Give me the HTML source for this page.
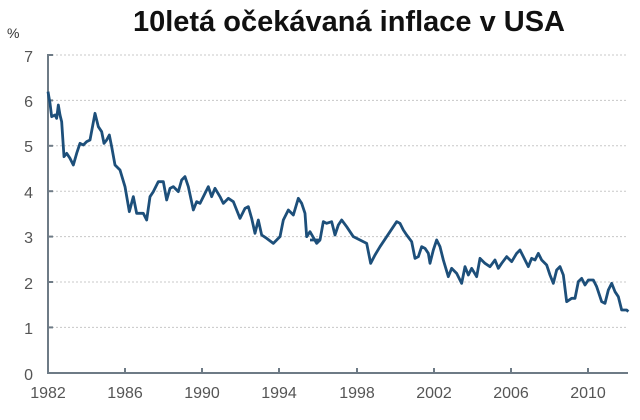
<!DOCTYPE html>
<html><head><meta charset="utf-8"><style>
body{margin:0;background:#fff;}
svg{display:block;font-family:"Liberation Sans",sans-serif;}
</style></head><body>
<svg width="640" height="420" viewBox="0 0 640 420">
<text x="349" y="31" text-anchor="middle" font-size="29" font-weight="bold" fill="#111">10letá očekávaná inflace v USA</text>
<text x="7" y="38" font-size="14" fill="#333">%</text>
<g stroke="#c8c8c8" stroke-width="1" stroke-dasharray="2,2">
<line x1="52" y1="55" x2="628" y2="55"/><line x1="52" y1="100.4" x2="628" y2="100.4"/>
<line x1="52" y1="145.8" x2="628" y2="145.8"/><line x1="52" y1="191.2" x2="628" y2="191.2"/>
<line x1="52" y1="236.6" x2="628" y2="236.6"/><line x1="52" y1="282" x2="628" y2="282"/>
<line x1="52" y1="327.4" x2="628" y2="327.4"/>
</g>
<g stroke="#6e7b86" stroke-width="2" fill="none">
<line x1="48" y1="54" x2="48" y2="374"/><line x1="47" y1="373" x2="628" y2="373"/>
<line x1="48" y1="55" x2="53" y2="55"/><line x1="48" y1="100.4" x2="53" y2="100.4"/><line x1="48" y1="145.8" x2="53" y2="145.8"/><line x1="48" y1="191.2" x2="53" y2="191.2"/><line x1="48" y1="236.6" x2="53" y2="236.6"/><line x1="48" y1="282" x2="53" y2="282"/><line x1="48" y1="327.4" x2="53" y2="327.4"/>
<line x1="125" y1="368" x2="125" y2="373"/><line x1="202" y1="368" x2="202" y2="373"/><line x1="279" y1="368" x2="279" y2="373"/><line x1="357" y1="368" x2="357" y2="373"/><line x1="434" y1="368" x2="434" y2="373"/><line x1="511" y1="368" x2="511" y2="373"/><line x1="588" y1="368" x2="588" y2="373"/>
</g>
<g font-size="16" fill="#555" text-anchor="end">
<text x="33" y="62">7</text><text x="33" y="107">6</text><text x="33" y="152">5</text><text x="33" y="198">4</text><text x="33" y="243">3</text><text x="33" y="289">2</text><text x="33" y="334">1</text><text x="33" y="380">0</text>
</g>
<g font-size="16" fill="#555" text-anchor="middle">
<text x="48" y="398">1982</text><text x="125" y="398">1986</text><text x="202" y="398">1990</text><text x="279" y="398">1994</text><text x="357" y="398">1998</text><text x="434" y="398">2002</text><text x="511" y="398">2006</text><text x="588" y="398">2010</text>
</g>
<g fill="none" stroke="#1d4f7a" stroke-width="2.8" stroke-linejoin="round">
<polyline vector-effect="non-scaling-stroke" transform="translate(0,40) scale(0.33333)" points="144,155 150,190 155,230 165,225 170,235 175,195 180,225 185,245 192,350 200,340 210,355 220,375 230,340 240,310 250,315 260,305 270,300 285,220 295,260 305,275 312,310 320,300 328,285 335,320 345,375 360,390 375,440 388,515 400,470 410,520 430,520 440,540 450,470 460,455 475,425 490,425 500,480 510,445 520,440 535,455 545,420 555,410 565,440 580,510 590,485 600,490 615,460 625,440 635,470 645,445 660,470 670,490 685,475 700,485 710,510 720,535 735,505 745,500 755,535 765,580 775,540 785,585 800,595 820,610 840,590 850,540 865,510 880,525 895,475 905,490 915,520 920,590 930,575 950,610 960,600"/>
<polyline vector-effect="non-scaling-stroke" transform="translate(320,150) scale(0.33333)" points="-30,270 0,270 10,215 20,220 35,215 45,255 55,225 65,210 80,230 100,260 120,270 140,280 152,340 165,315 180,290 200,260 220,230 230,215 240,220 250,240 260,255 275,275 285,325 295,320 305,290 315,295 325,310 330,340 340,300 350,270 360,290 370,330 385,380 395,355 410,370 425,400 435,350 445,375 455,355 470,380 480,325 495,340 510,350 525,330 535,355 545,340 560,320 575,335 590,310 600,300 610,320 625,350 635,325 645,330 655,310 665,330 680,345 690,375 700,400 710,360 720,350 730,375 740,455 755,445 765,445 775,395 785,385 795,405 805,390 820,390 830,410 845,455 855,460 865,420 875,400 885,425 895,440 905,480 920,480 925,485"/>
</g>
</svg>
</body></html>
